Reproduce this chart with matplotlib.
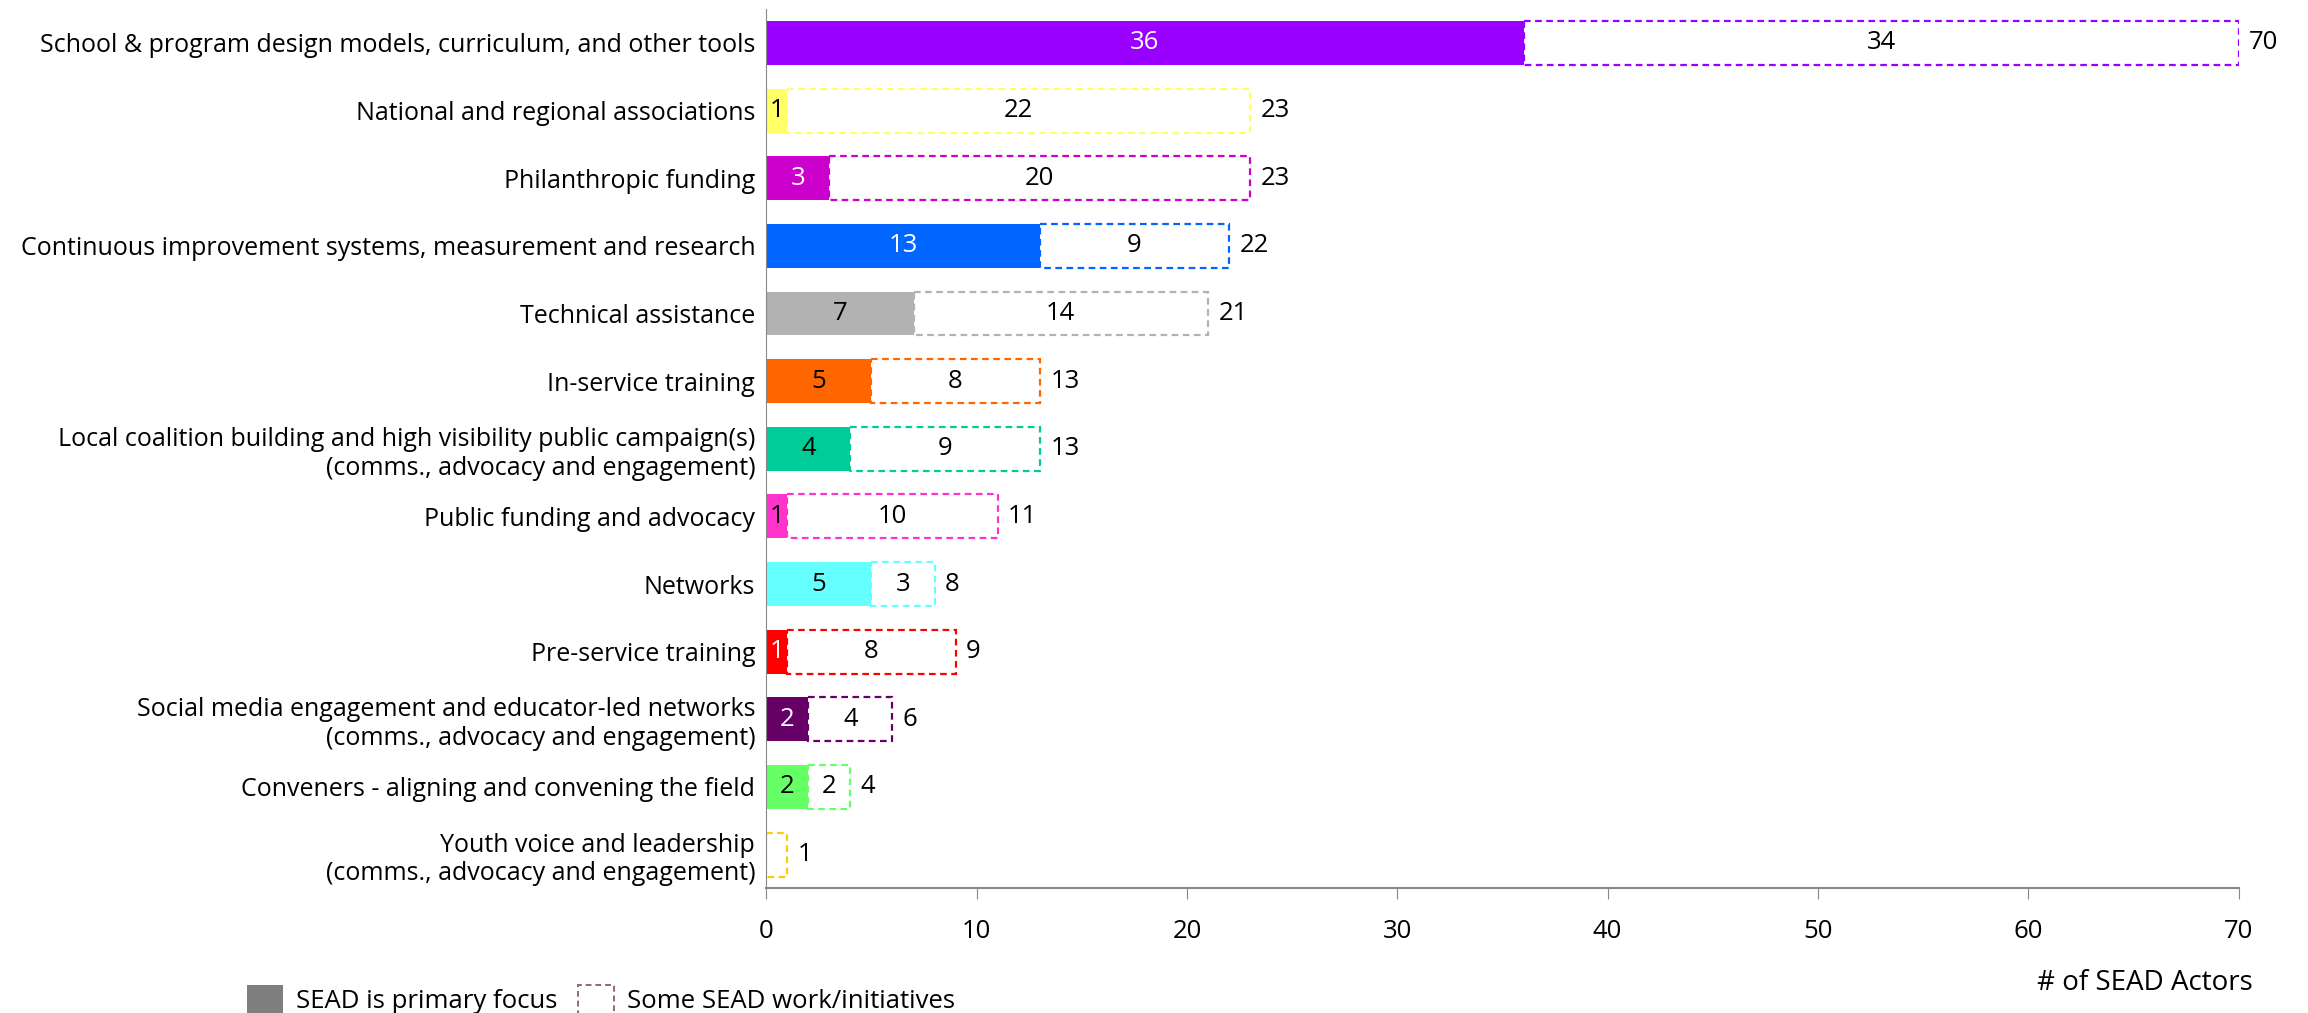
import matplotlib.pyplot as plt
from matplotlib.patches import Patch

plt.rcParams["font.family"] = ["Open Sans", "DejaVu Sans"]

categories = [
    "School & program design models, curriculum, and other tools",
    "National and regional associations",
    "Philanthropic funding",
    "Continuous improvement systems, measurement and research",
    "Technical assistance",
    "In-service training",
    "Local coalition building and high visibility public campaign(s)\n(comms., advocacy and engagement)",
    "Public funding and advocacy",
    "Networks",
    "Pre-service training",
    "Social media engagement and educator-led networks\n(comms., advocacy and engagement)",
    "Conveners - aligning and convening the field",
    "Youth voice and leadership\n(comms., advocacy and engagement)",
]
primary = [36, 1, 3, 13, 7, 5, 4, 1, 5, 1, 2, 2, 0]
some_work = [34, 22, 20, 9, 14, 8, 9, 10, 3, 8, 4, 2, 1]
colors = ["#9900FF", "#FFFF66", "#CC00CC", "#0066FF", "#B2B2B2", "#FF6600",
          "#00CC99", "#FF33CC", "#66FFFF", "#FF0000", "#660066", "#66FF66", "#FFCC00"]
label_colors = ["white", "black", "white", "white", "black", "black",
                "black", "black", "black", "white", "white", "black", "black"]

fig = plt.figure(figsize=(23.08, 10.13), dpi=100)
ax = fig.add_axes([0.332, 0.123, 0.638, 0.868])

y = list(range(len(categories)))
h = 0.65
fs = 18.5
for i in y:
    p, s, c = primary[i], some_work[i], colors[i]
    if p > 0:
        ax.barh(i, p, height=h, color=c, edgecolor="none")
        ax.text(p / 2, i, str(p), ha="center", va="center", fontsize=fs,
                color=label_colors[i])
    ax.barh(i, s, left=p, height=h, color="white", edgecolor=c,
            linestyle=(0, (3, 2)), linewidth=1.6)
    if p > 0:
        ax.text(p + s / 2, i, str(s), ha="center", va="center", fontsize=fs)
    ax.text(p + s + 0.5, i, str(p + s), ha="left", va="center", fontsize=fs)

ax.set_yticks(y)
ax.set_yticklabels(categories, fontsize=18)
ax.set_ylim(len(categories) - 0.5, -0.5)
ax.set_xlim(0, 70)
ax.set_xticks(range(0, 71, 10))
ax.tick_params(axis="x", labelsize=fs, length=8, color="#888888", pad=14)
ax.tick_params(axis="y", length=0, pad=8)
for side in ["top", "right"]:
    ax.spines[side].set_visible(False)
ax.spines["left"].set_color("#888888")
ax.spines["bottom"].set_color("#888888")
ax.spines["bottom"].set_linewidth(1.5)

fig.text(0.976, 0.03, "# of SEAD Actors", ha="right", va="center", fontsize=20)

handles = [
    Patch(facecolor="#7F7F7F", edgecolor="none", label="SEAD is primary focus"),
    Patch(facecolor="white", edgecolor="#996666", linestyle=(0, (3, 2)),
          linewidth=1.4, label="Some SEAD work/initiatives"),
]
fig.legend(handles=handles, loc="lower left", bbox_to_anchor=(0.097, -0.024),
           ncol=2, frameon=False, fontsize=fs, handlelength=1.4, handleheight=1.4,
           columnspacing=0.8, handletextpad=0.5)

fig.savefig("out.png", dpi=100)
